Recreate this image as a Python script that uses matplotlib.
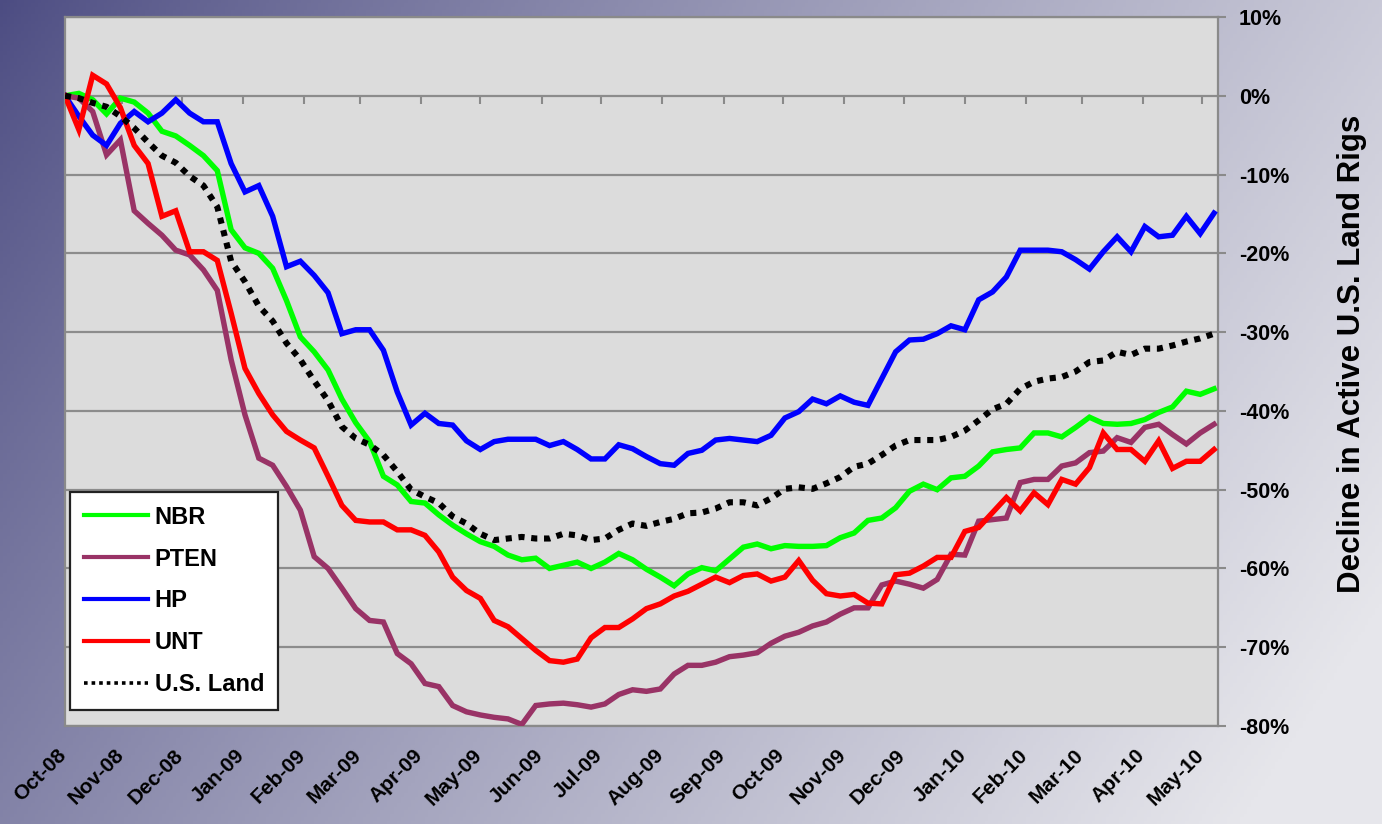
import numpy as np
import pandas as pd
import matplotlib
matplotlib.use("Agg")
import matplotlib.pyplot as plt
from matplotlib.transforms import ScaledTranslation

plt.rcParams['font.family'] = ['Liberation Sans', 'DejaVu Sans']
plt.rcParams['font.weight'] = 'bold'

# ---------------- data ----------------
dates = pd.date_range('2008-10-03', periods=84, freq='7D')

nbr = [0, 0.3, -0.5, -2.3, -0.3, -0.8, -2.2, -4.5, -5.1, -6.3,
       -7.6, -9.5, -17, -19.3, -20, -21.9, -26, -30.6, -32.5, -34.8,
       -38.5, -41.5, -43.9, -48.3, -49.4, -51.5, -51.7, -53.2, -54.5, -55.6,
       -56.6, -57.2, -58.3, -58.9, -58.7, -60, -59.6, -59.2, -60, -59.2,
       -58.1, -58.9, -60.1, -61.1, -62.2, -60.7, -59.9, -60.3, -58.8, -57.3,
       -56.9, -57.5, -57.1, -57.2, -57.2, -57.1, -56.1, -55.5, -53.9, -53.6,
       -52.3, -50.2, -49.3, -50, -48.5, -48.3, -47, -45.2, -44.9, -44.7,
       -42.8, -42.8, -43.3, -42.1, -40.8, -41.6, -41.7, -41.6, -41.1, -40.2,
       -39.5, -37.5, -37.9, -37.2]

pten = [0, -0.3, -2, -7.5, -5.6, -14.6, -16.2, -17.7, -19.6, -20.2,
        -22.1, -24.7, -33.5, -40.5, -46, -46.9, -49.6, -52.6, -58.5, -60,
        -62.5, -65.1, -66.6, -66.8, -70.8, -72.1, -74.6, -75, -77.4, -78.2,
        -78.6, -78.9, -79.1, -79.8, -77.4, -77.2, -77.1, -77.3, -77.6, -77.2,
        -76, -75.4, -75.6, -75.3, -73.4, -72.3, -72.3, -71.9, -71.2, -71,
        -70.7, -69.5, -68.6, -68.1, -67.3, -66.8, -65.8, -65, -65, -62.1,
        -61.6, -62, -62.5, -61.4, -58.2, -58.3, -54, -53.8, -53.6, -49.1,
        -48.7, -48.7, -47, -46.6, -45.3, -45.1, -43.4, -44, -42.1, -41.7,
        -43, -44.2, -42.8, -41.7]

hp = [0, -2.6, -5, -6.3, -3.5, -2, -3.3, -2.2, -0.5, -2.2,
      -3.3, -3.3, -8.6, -12.2, -11.4, -15.3, -21.7, -21, -22.8, -25,
      -30.2, -29.7, -29.7, -32.3, -37.6, -41.8, -40.3, -41.6, -41.8, -43.8,
      -44.9, -43.9, -43.6, -43.6, -43.6, -44.4, -43.9, -44.9, -46.1, -46.1,
      -44.3, -44.8, -45.8, -46.7, -46.9, -45.4, -45, -43.7, -43.5, -43.7,
      -43.9, -43.1, -40.9, -40.1, -38.5, -39.1, -38.1, -38.9, -39.3, -35.9,
      -32.5, -31, -30.9, -30.2, -29.2, -29.7, -25.9, -24.9, -23, -19.6,
      -19.6, -19.6, -19.8, -20.8, -22, -19.8, -17.9, -19.8, -16.6, -17.9,
      -17.7, -15.3, -17.5, -14.9]

unt = [0, -4.3, 2.6, 1.5, -1.5, -6.3, -8.6, -15.3, -14.6, -19.8,
       -19.8, -20.9, -27.6, -34.6, -37.8, -40.5, -42.6, -43.7, -44.7, -48.3,
       -52, -53.9, -54.1, -54.1, -55.1, -55.1, -55.8, -57.9, -61.1, -62.8,
       -63.8, -66.6, -67.4, -68.9, -70.4, -71.7, -71.9, -71.5, -68.8, -67.5,
       -67.5, -66.4, -65.1, -64.5, -63.5, -62.9, -62, -61.1, -61.8, -60.9,
       -60.7, -61.6, -61.1, -59, -61.5, -63.2, -63.5, -63.3, -64.4, -64.5,
       -60.8, -60.6, -59.7, -58.6, -58.6, -55.3, -54.8, -52.9, -51, -52.7,
       -50.4, -51.9, -48.7, -49.3, -47.2, -42.8, -44.9, -44.9, -46.4, -43.8,
       -47.3, -46.4, -46.4, -44.9]

us_land = [0, -0.3, -0.9, -1.4, -2.6, -4.1, -5.9, -7.6, -8.5, -10.2,
           -11.4, -14.1, -21, -23.6, -26.7, -28.6, -31.4, -33.5, -36.2, -38.7,
           -42, -43.5, -44.3, -45.6, -47.7, -50, -50.9, -51.7, -53.4, -54.3,
           -55.6, -56.4, -56.2, -56, -56.2, -56.2, -55.6, -55.8, -56.4, -56.2,
           -55.1, -54.3, -54.6, -54.1, -53.7, -53, -52.9, -52.4, -51.6, -51.6,
           -52, -51.1, -49.9, -49.7, -49.9, -49.2, -48.4, -47.1, -46.7, -45.6,
           -44.4, -43.7, -43.7, -43.7, -43.3, -42.5, -41.2, -39.8, -39.1, -37.2,
           -36.3, -35.9, -35.7, -35, -33.8, -33.6, -32.5, -32.9, -32.1, -32.1,
           -31.7, -31.2, -30.8, -30.2]

x_tick_dates = pd.to_datetime([
    '2008-10-03', '2008-11-01', '2008-12-01', '2009-01-01', '2009-02-01',
    '2009-03-01', '2009-04-01', '2009-05-01', '2009-06-01', '2009-07-01',
    '2009-08-01', '2009-09-01', '2009-10-01', '2009-11-01', '2009-12-01',
    '2010-01-01', '2010-02-01', '2010-03-01', '2010-04-01', '2010-05-01'])
x_tick_labels = ['Oct-08', 'Nov-08', 'Dec-08', 'Jan-09', 'Feb-09', 'Mar-09',
                 'Apr-09', 'May-09', 'Jun-09', 'Jul-09', 'Aug-09', 'Sep-09',
                 'Oct-09', 'Nov-09', 'Dec-09', 'Jan-10', 'Feb-10', 'Mar-10',
                 'Apr-10', 'May-10']
y_ticks = [10, 0, -10, -20, -30, -40, -50, -60, -70, -80]
y_tick_labels = ['10%', '0%', '-10%', '-20%', '-30%', '-40%', '-50%',
                 '-60%', '-70%', '-80%']

# ---------------- figure ----------------
W, H = 1382, 824
fig = plt.figure(figsize=(W / 100, H / 100), dpi=100)

# background gradient
bg = fig.add_axes([0, 0, 1, 1], zorder=-10)
xx, yy = np.meshgrid(np.linspace(0, 1, 400), np.linspace(0, 1, 240))
t = np.clip(0.78 * xx + 0.30 * yy, 0, 1) ** 0.85
dark = np.array([76, 76, 130]) / 255
light = np.array([230, 230, 235]) / 255
img = dark[None, None, :] + (light - dark)[None, None, :] * t[:, :, None]
bg.imshow(img, aspect='auto', extent=[0, 1, 0, 1], origin='upper')
bg.axis('off')

ax = fig.add_axes([65 / W, 1 - 726 / H, (1218 - 65) / W, (726 - 17) / H])
ax.set_facecolor('#dcdcdc')

series = [('NBR', nbr, '#00ff00'),
          ('PTEN', pten, '#993366'),
          ('HP', hp, '#0000ff'),
          ('UNT', unt, '#ff0000')]
for name, vals, col in series:
    ax.plot(dates, vals, color=col, lw=3.9, label=name,
            solid_joinstyle='miter', zorder=3)
ax.plot(dates, us_land, color='black', lw=4.4, linestyle=(0, (1.0, 1.1)),
        dash_capstyle='butt', label='U.S. Land', zorder=4)

ax.set_ylim(-80, 10)
ax.set_xlim(pd.Timestamp('2008-10-03'),
            pd.Timestamp('2008-10-03') + pd.Timedelta(days=583))

# grid
ax.set_yticks(y_ticks)
ax.set_yticklabels(y_tick_labels)
ax.yaxis.grid(True, color='#8c8c8c', lw=1.6)
ax.set_axisbelow(True)

for sp in ax.spines.values():
    sp.set_color('#8a8a8a')
    sp.set_linewidth(1.6)

# right y-axis
ax.yaxis.tick_right()
ax.yaxis.set_label_position('right')
ax.tick_params(axis='y', length=6, width=1.5, color='#8a8a8a', pad=9,
               labelsize=15.5, labelcolor='black')
ax.set_ylabel('Decline in Active U.S. Land Rigs', fontsize=22.5,
              fontweight='bold')
ax.yaxis.set_label_coords(1.103, 0.525)

# bottom labels
ax.set_xticks(x_tick_dates)
ax.set_xticklabels(x_tick_labels, rotation=45, ha='right', va='top',
                   rotation_mode='anchor', fontsize=15, fontweight='bold')
ax.tick_params(axis='x', length=0, pad=14)
shift = ScaledTranslation(-0.08, 0, fig.dpi_scale_trans)
for lbl in ax.get_xticklabels():
    lbl.set_transform(lbl.get_transform() + shift)

# small tick marks on the 0% line
sec = ax.secondary_xaxis(80 / 90)
sec.set_xticks(x_tick_dates)
sec.tick_params(axis='x', direction='in', length=6, width=1.5,
                color='#8a8a8a', labeltop=False, labelbottom=False)
for sp in sec.spines.values():
    sp.set_visible(False)

leg = ax.legend(loc='lower left', bbox_to_anchor=(0.004, 0.022),
                prop={'weight': 'bold', 'size': 17}, frameon=True,
                fancybox=False, framealpha=1, edgecolor='#222222',
                facecolor='white', handlelength=2.7, handletextpad=0.3,
                labelspacing=0.8, borderpad=0.6, borderaxespad=0)
leg.get_frame().set_linewidth(1.6)
for ln in leg.get_lines():
    ln.set_linewidth(3.0)
leg.get_lines()[-1].set_linewidth(2.6)

fig.savefig('out.png', dpi=100)
